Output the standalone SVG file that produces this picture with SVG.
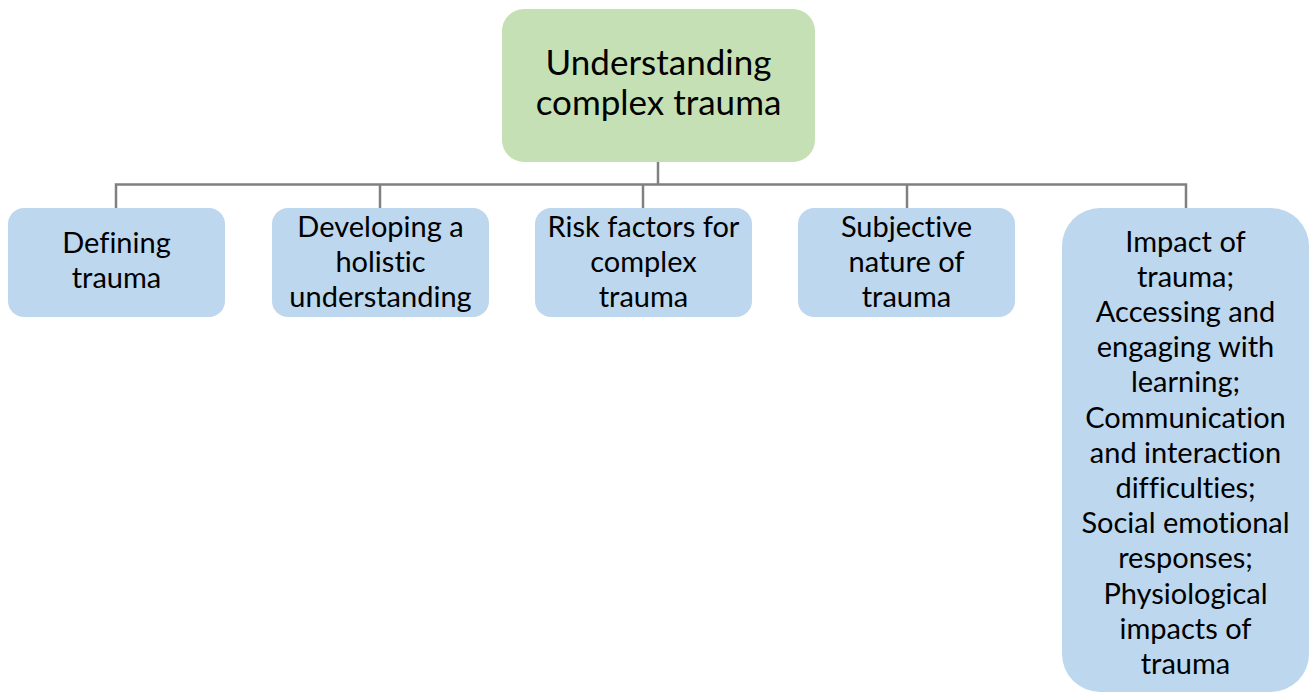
<svg xmlns="http://www.w3.org/2000/svg" width="1311" height="693" viewBox="0 0 1311 693">
  <style>
    .root { fill: #C5E0B4; }
    .child { fill: #BDD7EE; }
    .label { font-family: Lato, "Open Sans", sans-serif; fill: #000; text-anchor: middle; font-variant-ligatures: none; }
    .big { font-size: 35px; }
    .small { font-size: 29px; }
    .conn { stroke: #808080; stroke-width: 2.5; fill: none; }
  </style>
  <rect width="1311" height="693" fill="#fff"/>

  <!-- tree connectors -->
  <g id="connectors">
    <path class="conn" d="M658,162 V184.5"/>
    <path class="conn" d="M116,208 V184.5 H1186 V208"/>
    <path class="conn" d="M380,184.5 V208"/>
    <path class="conn" d="M643,184.5 V208"/>
    <path class="conn" d="M907,184.5 V208"/>
  </g>

  <g id="node-root">
    <rect class="root" x="502" y="9" width="313" height="153" rx="22"/>
    <text class="label big" x="658.5" y="75">Understanding</text>
    <text class="label big" x="658.5" y="115">complex trauma</text>
  </g>

  <g id="node-defining">
    <rect class="child" x="8" y="208" width="217" height="109" rx="16"/>
    <text class="label small" x="116.5" y="253">Defining</text>
    <text class="label small" x="116.5" y="288">trauma</text>
  </g>

  <g id="node-holistic">
    <rect class="child" x="272" y="208" width="217" height="109" rx="16"/>
    <text class="label small" x="380.5" y="237">Developing a</text>
    <text class="label small" x="380.5" y="272">holistic</text>
    <text class="label small" x="380.5" y="307">understanding</text>
  </g>

  <g id="node-risk">
    <rect class="child" x="535" y="208" width="217" height="109" rx="16"/>
    <text class="label small" x="643.5" y="237">Risk factors for</text>
    <text class="label small" x="643.5" y="272">complex</text>
    <text class="label small" x="643.5" y="307">trauma</text>
  </g>

  <g id="node-subjective">
    <rect class="child" x="798" y="208" width="217" height="109" rx="16"/>
    <text class="label small" x="906.5" y="237">Subjective</text>
    <text class="label small" x="906.5" y="272">nature of</text>
    <text class="label small" x="906.5" y="307">trauma</text>
  </g>

  <g id="node-impact">
    <rect class="child" x="1062" y="208" width="247" height="484" rx="38"/>
    <text class="label small" x="1185.5" y="252">Impact of</text>
    <text class="label small" x="1185.5" y="287">trauma;</text>
    <text class="label small" x="1185.5" y="322">Accessing and</text>
    <text class="label small" x="1185.5" y="357">engaging with</text>
    <text class="label small" x="1185.5" y="392">learning;</text>
    <text class="label small" x="1185.5" y="428">Communication</text>
    <text class="label small" x="1185.5" y="463">and interaction</text>
    <text class="label small" x="1185.5" y="498">difficulties;</text>
    <text class="label small" x="1185.5" y="533">Social emotional</text>
    <text class="label small" x="1185.5" y="568">responses;</text>
    <text class="label small" x="1185.5" y="604">Physiological</text>
    <text class="label small" x="1185.5" y="639">impacts of</text>
    <text class="label small" x="1185.5" y="674">trauma</text>
  </g>
</svg>
